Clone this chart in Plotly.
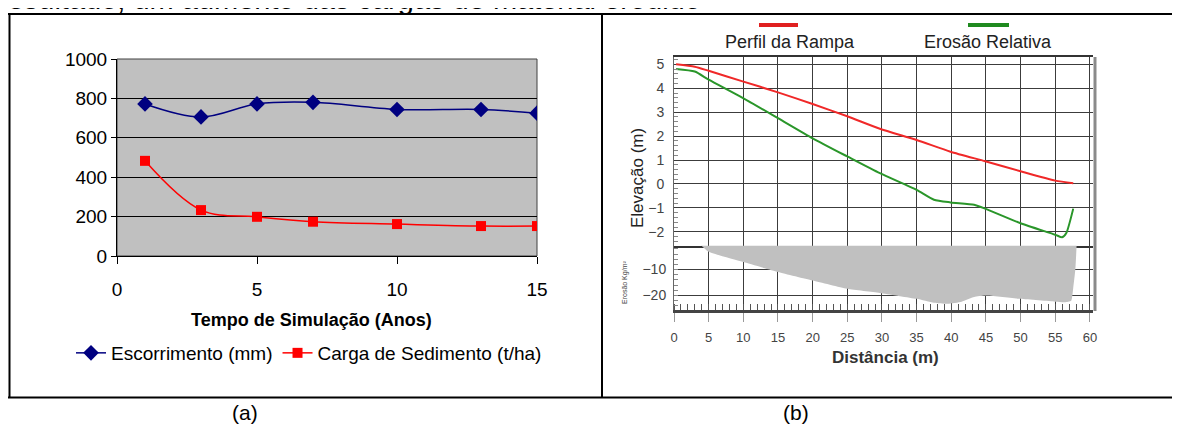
import plotly.graph_objects as go

# ---------------- data ----------------
# Panel (a)
anos = [1, 3, 5, 7, 10, 13, 15]
escorrimento_mm = [772, 706, 772, 780, 744, 744, 725]
carga_sedimento = [483, 233, 199, 174, 162, 152, 152]
ticks_anos = [0, 5, 10, 15]

# Panel (b) – upper: elevation profiles
dist_perfil = [0.3, 3, 5, 9.9, 15, 20, 25, 29.7, 35, 39.9, 44.9, 50, 55, 57.6]
perfil_rampa = [5.0, 4.9, 4.73, 4.29, 3.83, 3.34, 2.83, 2.31, 1.84, 1.35, 0.95, 0.53, 0.14, 0.03]
dist_erosao = [0.3, 3, 5, 9.9, 15, 20, 25, 29.7, 35, 37.5, 39.9, 43.3, 44.9, 50, 55, 56, 56.6, 57.6]
erosao_relativa = [4.81, 4.7, 4.36, 3.6, 2.75, 1.91, 1.15, 0.45, -0.25, -0.66, -0.77, -0.87,
                   -1.03, -1.64, -2.12, -2.23, -2.05, -1.03]
# Panel (b) – lower: soil loss (kg/m2)
dist_perda = [0, 3.5, 5, 9.9, 15, 20, 25, 29.7, 35, 37.5, 39.5, 41.5, 43.3, 44.9, 50, 55, 56.4,
              57.3, 57.6, 57.9, 58.1]
perda_solo = [0, 0, -3.15, -7.0, -10.9, -14.2, -17.4, -19.0, -21.3, -22.8, -23.2, -22.4, -20.6,
              -20.0, -21.3, -22.4, -22.6, -22.0, -17.0, -10.0, 0]
ticks_dist = list(range(0, 61, 5))

W, H = 1180, 428
OFF = 8  # the page places the figure 8 px from the window's top-left corner
def px(x):
    return (x - OFF) / W
def py(y):
    return 1 - (y - OFF) / H

FA = "Liberation Sans, Arial, sans-serif"

fig = go.Figure()

# ---- panel (a) traces ----
fig.add_trace(go.Scatter(
    x=anos, y=escorrimento_mm, mode="lines+markers", name="Escorrimento (mm)",
    line=dict(color="#000080", width=1.5, shape="spline", smoothing=1.0),
    marker=dict(symbol="diamond", size=12, color="#000080"),
    xaxis="x", yaxis="y"))
fig.add_trace(go.Scatter(
    x=anos, y=carga_sedimento, mode="lines+markers", name="Carga de Sedimento (t/ha)",
    line=dict(color="#ff0000", width=1.5, shape="spline", smoothing=1.0),
    marker=dict(symbol="square", size=10, color="#ff0000"),
    xaxis="x", yaxis="y"))

# ---- panel (b) traces ----
fig.add_trace(go.Scatter(
    x=dist_perda, y=perda_solo, mode="lines", fill="tozeroy",
    fillcolor="#c0c0c0", line=dict(width=0, color="#c0c0c0", shape="spline", smoothing=0.5),
    showlegend=False, xaxis="x3", yaxis="y3"))
fig.add_trace(go.Scatter(
    x=dist_perfil, y=perfil_rampa, mode="lines",
    line=dict(color="#f02828", width=2, shape="spline", smoothing=0.6),
    showlegend=False, xaxis="x2", yaxis="y2"))
fig.add_trace(go.Scatter(
    x=dist_erosao, y=erosao_relativa, mode="lines",
    line=dict(color="#2a962a", width=2, shape="spline", smoothing=0.6),
    showlegend=False, xaxis="x2", yaxis="y2"))

grid_b = "#3c3c3c"

fig.update_layout(
    width=W, height=H,
    margin=dict(l=0, r=0, t=0, b=0, autoexpand=False),
    paper_bgcolor="white", plot_bgcolor="rgba(0,0,0,0)",
    font=dict(family=FA, color="black"),
    showlegend=True,
    legend=dict(orientation="h", x=px(71), y=py(353), xanchor="left", yanchor="middle",
                font=dict(family=FA, size=19, color="black"), bgcolor="rgba(0,0,0,0)",
                itemwidth=30, tracegroupgap=0),
    xaxis=dict(domain=[px(117), px(537)], range=[0, 15], tickvals=ticks_anos,
               ticks="outside", ticklen=7, tickcolor="black", showline=True,
               linecolor="black", linewidth=1, showgrid=False, zeroline=False,
               tickfont=dict(size=19, family=FA, color="black"), anchor="y",
               ticklabelstandoff=9),
    yaxis=dict(domain=[py(256), py(59)], range=[0, 1000], dtick=200,
               ticks="outside", ticklen=5, tickcolor="black", showline=True,
               linecolor="black", linewidth=1, showgrid=True, gridcolor="black",
               gridwidth=1, zeroline=False,
               tickfont=dict(size=19, family=FA, color="black"), anchor="x"),
    xaxis2=dict(domain=[px(674), px(1093)], range=[0, 60.45], tick0=0, dtick=5,
                showticklabels=False, ticks="", showgrid=True, gridcolor=grid_b,
                gridwidth=1.4, zeroline=False, showline=True, linecolor="#333",
                linewidth=2, mirror=True, anchor="y2"),
    yaxis2=dict(domain=[py(245.7), py(56.7)], range=[-2.58, 5.32], tick0=0, dtick=1,
                ticks="", showgrid=True, gridcolor=grid_b, gridwidth=1.4,
                zeroline=False, showline=True, linecolor="#666", linewidth=1,
                tickfont=dict(size=14, family=FA, color="#444"),
                minor=dict(ticks="inside", dtick=0.2, ticklen=4, tickcolor="#888"),
                anchor="x2", ticklabelstandoff=6),
    xaxis3=dict(domain=[px(674), px(1093)], range=[0, 60.45], tickvals=ticks_dist,
                ticks="outside", ticklen=9, tickcolor="#999", showgrid=True,
                gridcolor=grid_b, gridwidth=1.4, zeroline=False, showline=True,
                linecolor="#444", linewidth=3,
                tickfont=dict(size=13, family=FA, color="#444"),
                minor=dict(ticks="inside", dtick=1, ticklen=6, tickcolor="#555",
                           showgrid=False),
                anchor="y3", ticklabelstandoff=4),
    yaxis3=dict(domain=[py(310), py(245.7)], range=[-25.6, -0.8], tickvals=[-10, -20],
                ticks="", showgrid=True, gridcolor=grid_b, gridwidth=1.4,
                zeroline=False, showline=True, linecolor="#666", linewidth=1,
                tickfont=dict(size=14, family=FA, color="#444"),
                minor=dict(ticks="inside", dtick=2, ticklen=4, tickcolor="#888"),
                anchor="x3", ticklabelstandoff=4),
)

shapes = []
# gray plot area of panel (a)
shapes.append(dict(type="rect", xref="x domain", yref="y domain", x0=0, x1=1, y0=0, y1=1,
                   fillcolor="#c0c0c0", line=dict(color="#404040", width=1), layer="below"))
# right shadow of panel (b) plot
shapes.append(dict(type="line", xref="paper", yref="paper", x0=px(1095), x1=px(1095),
                   y0=py(311), y1=py(57), line=dict(color="#8a8a8a", width=3)))
# table borders
bl = dict(color="black", width=2)
shapes.append(dict(type="line", xref="paper", yref="paper", x0=px(8), x1=1.0,
                   y0=py(14), y1=py(14), line=bl))
shapes.append(dict(type="line", xref="paper", yref="paper", x0=px(8), x1=1.0,
                   y0=py(397.5), y1=py(397.5), line=bl))
shapes.append(dict(type="line", xref="paper", yref="paper", x0=px(9.5), x1=px(9.5),
                   y0=py(14), y1=py(397.5), line=bl))
shapes.append(dict(type="line", xref="paper", yref="paper", x0=px(602), x1=px(602),
                   y0=py(14), y1=py(397.5), line=bl))
# legend swatches of panel (b)
shapes.append(dict(type="line", xref="paper", yref="paper", x0=px(759), x1=px(798),
                   y0=py(25), y1=py(25), line=dict(color="#e02020", width=4)))
shapes.append(dict(type="line", xref="paper", yref="paper", x0=px(968), x1=px(1009),
                   y0=py(25), y1=py(25), line=dict(color="#1f8a1f", width=4)))
fig.update_layout(shapes=shapes)

ann = []
ann.append(dict(text="resultado, um aumento das cargas de material erodido", xref="paper",
                yref="paper", x=px(-4), y=py(17), xanchor="left", yanchor="bottom",
                showarrow=False, font=dict(family=FA, size=29, color="black")))
ann.append(dict(text="<b>Tempo de Simulação (Anos)</b>", xref="paper", yref="paper",
                x=px(311), y=py(320), xanchor="center", yanchor="middle", showarrow=False,
                font=dict(family=FA, size=18, color="black")))
ann.append(dict(text="(a)", xref="paper", yref="paper", x=px(245), y=py(412),
                xanchor="center", yanchor="middle", showarrow=False,
                font=dict(family=FA, size=21, color="black")))
ann.append(dict(text="(b)", xref="paper", yref="paper", x=px(796), y=py(412),
                xanchor="center", yanchor="middle", showarrow=False,
                font=dict(family=FA, size=21, color="black")))
ann.append(dict(text="Perfil da Rampa", xref="paper", yref="paper", x=px(790), y=py(42),
                xanchor="center", yanchor="middle", showarrow=False,
                font=dict(family=FA, size=18, color="#222")))
ann.append(dict(text="Erosão Relativa", xref="paper", yref="paper", x=px(988), y=py(42),
                xanchor="center", yanchor="middle", showarrow=False,
                font=dict(family=FA, size=18, color="#222")))
ann.append(dict(text="<b>Distância (m)</b>", xref="paper", yref="paper", x=px(885),
                y=py(357), xanchor="center", yanchor="middle", showarrow=False,
                font=dict(family=FA, size=17, color="#333")))
ann.append(dict(text="Elevação (m)", xref="paper", yref="paper", x=px(637), y=py(178),
                xanchor="center", yanchor="middle", showarrow=False, textangle=-90,
                font=dict(family=FA, size=17, color="#222")))
ann.append(dict(text="Erosão Kg/m²", xref="paper", yref="paper", x=px(625), y=py(283),
                xanchor="center", yanchor="middle", showarrow=False, textangle=-90,
                font=dict(family=FA, size=7, color="#444")))
fig.update_layout(annotations=ann)

fig.write_html("out.html")
